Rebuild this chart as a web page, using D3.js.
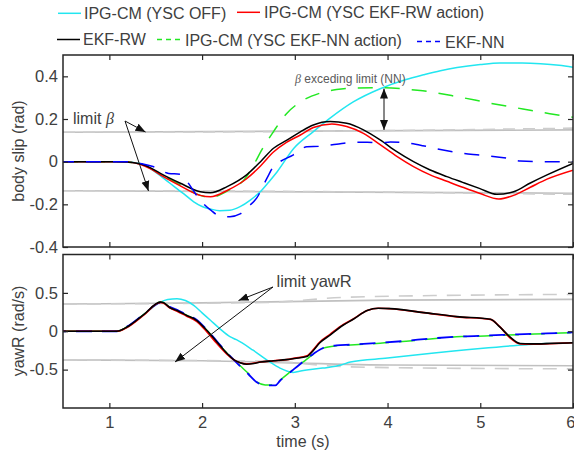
<!DOCTYPE html>
<html><head><meta charset="utf-8">
<script src="https://cdn.jsdelivr.net/npm/d3@7"></script>
<style>
html,body{margin:0;padding:0;background:#fff;}
svg text{font-family:"Liberation Sans",Arial,Helvetica,sans-serif;}
</style></head>
<body><svg id="c" width="574" height="456"></svg>
<script>
// ---------- DATA ----------
const xTicks = [1, 2, 3, 4, 5, 6];
const topYTicks = [-0.4, -0.2, 0, 0.2, 0.4];
const botYTicks = [-0.5, 0, 0.5];

const legendNames = ["IPG-CM (YSC OFF)", "IPG-CM (YSC EKF-RW action)", "EKF-RW", "IPG-CM (YSC EKF-NN action)", "EKF-NN"];
const seriesColors = ["#22e6f0", "#ff0000", "#000000", "#22e822", "#0000ff"];

// body slip (rad)
const bsCyanT = [0.5,1.15,1.33,1.5,1.65,1.8,1.91,2.0,2.09,2.19,2.3,2.41,2.52,2.63,2.72,2.81,2.99,3.2,3.38,3.63,3.92,4.2,4.39,4.57,4.75,5.0,5.21,5.45,5.65,5.85,6.0];
const bsCyanV = [0,0,-0.008,-0.05,-0.10,-0.15,-0.188,-0.21,-0.222,-0.23,-0.228,-0.211,-0.18,-0.14,-0.095,-0.047,0.063,0.141,0.204,0.28,0.342,0.385,0.407,0.426,0.441,0.455,0.462,0.462,0.459,0.452,0.443];

const bsRedT = [0.5,1.1,1.2,1.33,1.45,1.55,1.76,1.98,2.09,2.27,2.48,2.63,2.77,2.91,3.06,3.2,3.4,3.56,3.74,3.92,4.1,4.28,4.46,4.64,4.81,4.99,5.2,5.36,5.54,5.72,6.0];
const bsRedV = [0,0,-0.002,-0.012,-0.035,-0.062,-0.112,-0.158,-0.165,-0.135,-0.08,-0.02,0.045,0.09,0.125,0.16,0.177,0.165,0.133,0.08,0.025,-0.023,-0.062,-0.092,-0.12,-0.148,-0.175,-0.158,-0.12,-0.082,-0.04];

const bsBlackT = [0.5,1.1,1.2,1.33,1.45,1.55,1.76,1.98,2.09,2.27,2.48,2.63,2.77,2.91,3.06,3.2,3.38,3.56,3.74,3.92,4.1,4.28,4.46,4.64,4.81,4.99,5.18,5.36,5.54,5.72,6.0];
const bsBlackV = [0,0,-0.002,-0.01,-0.03,-0.055,-0.10,-0.141,-0.146,-0.117,-0.062,0.0,0.063,0.1,0.14,0.172,0.188,0.18,0.149,0.102,0.047,0.0,-0.039,-0.07,-0.097,-0.125,-0.153,-0.141,-0.10,-0.062,-0.008];

const bsGreenT = [0.5,1.1,1.33,1.55,1.76,1.98,2.09,2.27,2.48,2.55,2.65,2.77,2.91,3.06,3.27,3.45,3.63,3.92,4.2,4.38,4.75,5.11,5.46,5.75,6.0];
const bsGreenV = [0,0,-0.01,-0.058,-0.108,-0.158,-0.168,-0.138,-0.07,-0.02,0.06,0.141,0.225,0.28,0.321,0.338,0.345,0.347,0.34,0.332,0.305,0.274,0.247,0.225,0.208];

const bsBlueT = [0.5,1.1,1.2,1.35,1.47,1.64,1.76,1.89,1.96,2.09,2.2,2.3,2.41,2.48,2.59,2.7,2.77,2.84,2.98,3.13,3.27,3.45,3.63,3.78,3.92,4.03,4.2,4.38,4.57,4.81,5.0,5.29,5.43,5.7,6.0];
const bsBlueV = [0,0,0,-0.01,-0.023,-0.055,-0.059,-0.125,-0.17,-0.226,-0.256,-0.258,-0.245,-0.217,-0.17,-0.077,-0.023,0.0,0.031,0.07,0.072,0.082,0.091,0.091,0.087,0.092,0.088,0.075,0.057,0.039,0.031,0.016,0.003,0.0,0.0];

const bsLimSolidT = [0.5, 6];
const bsLimUpSolidV = [0.138, 0.149];
const bsLimLoSolidV = [-0.136, -0.148];
const bsLimDashT = [0.5, 2.8, 6];
const bsLimUpDashV = [0.138, 0.141, 0.157];
const bsLimLoDashV = [-0.136, -0.139, -0.153];

// yaw rate (rad/s)
const yrCyanT = [0.5,1.08,1.19,1.37,1.55,1.63,1.73,1.82,1.91,2.0,2.09,2.19,2.3,2.37,2.55,2.73,2.84,2.92,2.98,3.05,3.3,3.5,3.6,4.0,4.3,5.0,5.5,5.7,6.0];
const yrCyanV = [0,0,0.055,0.216,0.38,0.415,0.424,0.40,0.337,0.24,0.143,0.035,-0.07,-0.11,-0.247,-0.40,-0.48,-0.52,-0.536,-0.52,-0.48,-0.44,-0.40,-0.35,-0.31,-0.225,-0.175,-0.16,-0.15];

const yrRedT = [0.5,1.08,1.19,1.37,1.55,1.58,1.65,1.73,1.83,1.94,2.05,2.16,2.27,2.34,2.41,2.48,2.56,2.63,2.77,2.91,3.0,3.13,3.2,3.27,3.38,3.52,3.63,3.78,3.9,4.03,4.39,4.75,5.11,5.21,5.32,5.43,5.54,5.75,6.0];
const yrRedV = [0,0,0.05,0.21,0.375,0.37,0.305,0.262,0.2,0.13,-0.005,-0.16,-0.30,-0.37,-0.41,-0.425,-0.415,-0.40,-0.385,-0.37,-0.35,-0.32,-0.24,-0.14,-0.04,0.085,0.16,0.27,0.30,0.293,0.243,0.188,0.155,0.06,-0.085,-0.165,-0.168,-0.16,-0.15];

const yrBlackT = [0.5,1.08,1.19,1.37,1.55,1.58,1.65,1.73,1.83,1.94,2.05,2.16,2.27,2.34,2.41,2.48,2.56,2.63,2.77,2.91,3.0,3.13,3.2,3.27,3.38,3.52,3.63,3.78,3.9,4.03,4.39,4.75,5.11,5.21,5.32,5.43,5.54,5.75,6.0];
const yrBlackV = [0,0,0.055,0.216,0.38,0.375,0.31,0.27,0.208,0.143,0.013,-0.139,-0.29,-0.37,-0.41,-0.43,-0.42,-0.40,-0.385,-0.37,-0.355,-0.33,-0.25,-0.15,-0.05,0.078,0.156,0.27,0.30,0.295,0.243,0.19,0.156,0.056,-0.074,-0.16,-0.165,-0.16,-0.15];

const yrNNT = [0.5,1.08,1.19,1.37,1.55,1.58,1.65,1.73,1.83,1.94,2.05,2.16,2.27,2.34,2.41,2.5,2.59,2.68,2.79,2.84,2.95,3.09,3.2,3.31,3.45,3.6,3.92,4.2,4.46,4.8,5.1,5.4,5.72,6.0];
const yrGreenV = [0,0,0.055,0.216,0.38,0.375,0.31,0.27,0.208,0.143,0.013,-0.139,-0.29,-0.37,-0.45,-0.55,-0.66,-0.70,-0.70,-0.64,-0.53,-0.40,-0.30,-0.22,-0.19,-0.18,-0.155,-0.13,-0.10,-0.07,-0.06,-0.045,-0.03,-0.017];
const yrBlueV  = [0,0,0.06,0.22,0.375,0.38,0.32,0.28,0.215,0.15,0.02,-0.13,-0.285,-0.37,-0.455,-0.56,-0.665,-0.705,-0.705,-0.645,-0.535,-0.395,-0.295,-0.215,-0.185,-0.175,-0.15,-0.125,-0.095,-0.068,-0.055,-0.04,-0.028,-0.015];

const yrLimSolidT = [0.5, 2.0, 4.0, 6.0];
const yrLimUpSolidV = [0.355, 0.37, 0.405, 0.415];
const yrLimLoSolidV = [-0.375, -0.385, -0.44, -0.45];
const yrLimDashT = [0.5, 2.7, 3.5, 4.5, 6.0];
const yrLimUpDashV = [0.355, 0.375, 0.44, 0.465, 0.48];
const yrLimLoDashV = [-0.375, -0.39, -0.46, -0.48, -0.49];

// ---------- DRAW ----------
const svg = d3.select("#c");
const axisColor = "#262626", textColor = "#404040";
const x = d3.scaleLinear().domain([0.5, 6]).range([63, 573]);
const yTop = d3.scaleLinear().domain([-0.4, 0.5]).range([247, 55]);
const yBot = d3.scaleLinear().domain([-1, 1]).range([408, 254.5]);

const defs = svg.append("defs");
defs.append("marker").attr("id","ah").attr("viewBox","0 0 10 10").attr("refX",10).attr("refY",5)
  .attr("markerWidth",10).attr("markerHeight",10).attr("markerUnits","userSpaceOnUse").attr("orient","auto-start-reverse")
  .append("path").attr("d","M0,1 L10,5 L0,9 Z").attr("fill","#111");

function clip(id, y) {
  defs.append("clipPath").attr("id", id).append("rect")
    .attr("x", x.range()[0]).attr("y", y.range()[1])
    .attr("width", x.range()[1]-x.range()[0]).attr("height", y.range()[0]-y.range()[1]);
}
clip("cTop", yTop); clip("cBot", yBot);

function series(g, y, T, V, color, opts = {}) {
  const data = T.map((t, i) => [t, V[i]]);
  const line = d3.line().x(d => x(d[0])).y(d => y(d[1])).curve(d3.curveMonotoneX);
  const p = g.append("path").datum(data).attr("d", line).attr("fill","none")
    .attr("stroke", color).attr("stroke-width", opts.w || 1.5)
    .attr("stroke-linejoin","round").attr("stroke-linecap","butt");
  if (opts.dash) p.attr("stroke-dasharray", opts.dash);
  if (opts.off) p.attr("stroke-dashoffset", opts.off);
  return p;
}

function axes(y, yTicks, showX) {
  const g = svg.append("g");
  const [x0, x1] = x.range(), [yb, yt] = y.range();
  const fmt = d => d === 0 ? "0" : (d < 0 ? "-" : "") + Math.abs(d).toFixed(1);
  const ax = g.append("g").attr("transform", `translate(${x0},0)`)
    .call(d3.axisLeft(y).tickValues(yTicks).tickSize(-5).tickPadding(5).tickFormat(fmt));
  const axr = g.append("g").attr("transform", `translate(${x1},0)`)
    .call(d3.axisRight(y).tickValues(yTicks).tickSize(-5).tickFormat(""));
  const axt = g.append("g").attr("transform", `translate(0,${yt})`)
    .call(d3.axisTop(x).tickValues(xTicks).tickSize(-5).tickFormat(""));
  const axb = g.append("g").attr("transform", `translate(0,${yb})`)
    .call(d3.axisBottom(x).tickValues(xTicks).tickSize(-5).tickPadding(8).tickFormat(showX ? d3.format("d") : ""));
  [ax, axr, axt, axb].forEach(a => {
    a.select(".domain").remove();
    a.selectAll("line").attr("stroke", axisColor).attr("stroke-width", 1.2);
    a.selectAll("text").attr("fill", textColor).style("font-size", "16.5px")
      .style("font-family", '"Liberation Sans",Arial,sans-serif');
  });
  // keep the last x label inside the picture
  axb.selectAll(".tick text").filter(d => d === 6).attr("text-anchor", "end").attr("x", 2);
  g.append("rect").attr("x", x0).attr("y", yt).attr("width", x1 - x0).attr("height", yb - yt)
    .attr("fill","none").attr("stroke", axisColor).attr("stroke-width", 1.5);
}

// Top plot
const gT = svg.append("g").attr("clip-path","url(#cTop)");
series(gT, yTop, bsLimSolidT, bsLimUpSolidV, "#c0c0c0", {w:1.6});
series(gT, yTop, bsLimSolidT, bsLimLoSolidV, "#c0c0c0", {w:1.6});
series(gT, yTop, bsLimDashT, bsLimUpDashV, "#cdcdcd", {w:1.6, dash:"12,8"});
series(gT, yTop, bsLimDashT, bsLimLoDashV, "#cdcdcd", {w:1.6, dash:"12,8"});
series(gT, yTop, bsCyanT, bsCyanV, seriesColors[0]);
series(gT, yTop, bsGreenT, bsGreenV, seriesColors[3], {dash:"15,12"});
series(gT, yTop, bsRedT, bsRedV, seriesColors[1]);
series(gT, yTop, bsBlackT, bsBlackV, seriesColors[2]);
series(gT, yTop, bsBlueT, bsBlueV, seriesColors[4], {dash:"15,12", off:4});
axes(yTop, topYTicks, false);

// Bottom plot
const gB = svg.append("g").attr("clip-path","url(#cBot)");
series(gB, yBot, yrLimSolidT, yrLimUpSolidV, "#c0c0c0", {w:1.6});
series(gB, yBot, yrLimSolidT, yrLimLoSolidV, "#c0c0c0", {w:1.6});
series(gB, yBot, yrLimDashT, yrLimUpDashV, "#cdcdcd", {w:1.6, dash:"14,10"});
series(gB, yBot, yrLimDashT, yrLimLoDashV, "#cdcdcd", {w:1.6, dash:"14,10"});
series(gB, yBot, yrCyanT, yrCyanV, seriesColors[0]);
series(gB, yBot, yrNNT, yrGreenV, seriesColors[3], {dash:"16,10"});
series(gB, yBot, yrNNT, yrBlueV, seriesColors[4], {dash:"16,10", off:13, w:1.8});
series(gB, yBot, yrRedT, yrRedV, seriesColors[1], {w:1.7});
series(gB, yBot, yrBlackT, yrBlackV, seriesColors[2], {w:1.6});
axes(yBot, botYTicks, true);

// Axis labels
svg.append("text").attr("transform","translate(24,151) rotate(-90)").attr("text-anchor","middle")
  .attr("fill", textColor).style("font-size","16px").text("body slip (rad)");
svg.append("text").attr("transform","translate(24,331) rotate(-90)").attr("text-anchor","middle")
  .attr("fill", textColor).style("font-size","16px").text("yawR (rad/s)");
svg.append("text").attr("x", 303).attr("y", 447).attr("text-anchor","middle")
  .attr("fill", textColor).style("font-size","16px").text("time (s)");

// Annotations
const ann = svg.append("g");
function arrow(x1, y1, x2, y2, both) {
  const l = ann.append("line").attr("x1",x1).attr("y1",y1).attr("x2",x2).attr("y2",y2)
    .attr("stroke","#111").attr("stroke-width",1).attr("marker-end","url(#ah)");
  if (both) l.attr("marker-start","url(#ah)");
}
const t1 = ann.append("text").attr("x",73).attr("y",124).attr("fill",textColor).style("font-size","16px");
t1.append("tspan").text("limit ");
t1.append("tspan").style("font-style","italic").style("font-family",'"Liberation Serif","Times New Roman",serif').text("β");
arrow(125, 121, 145.5, 132);
arrow(125, 121, 148.5, 191);

const t2 = ann.append("text").attr("x",295).attr("y",83).attr("fill","#5a5a5a").style("font-size","12px");
t2.append("tspan").style("font-style","italic").style("font-family",'"Liberation Serif","Times New Roman",serif').text("β");
t2.append("tspan").text(" exceding limit (NN)");
arrow(384, 88.5, 384, 130, true);

ann.append("text").attr("x",276.5).attr("y",287).attr("fill",textColor).style("font-size","16.5px").text("limit yawR");
arrow(273, 287, 238.5, 300.5);
arrow(273, 287, 175, 362);

// Legend
const leg = svg.append("g");
const legItems = [
  {i:0, lx:58, ly:13.3, tx:84, ty:13, dash:null},
  {i:1, lx:237, ly:12.3, tx:264, ty:12, dash:null},
  {i:2, lx:57, ly:39.5, tx:83, ty:39.5, dash:null},
  {i:3, lx:157, ly:39.5, tx:185, ty:40, dash:"5,4"},
  {i:4, lx:417, ly:41.5, tx:445, ty:42, dash:"5,4"}
];
legItems.forEach(d => {
  const l = leg.append("line").attr("x1", d.lx).attr("x2", d.lx + 23).attr("y1", d.ly).attr("y2", d.ly)
    .attr("stroke", seriesColors[d.i]).attr("stroke-width", 1.5);
  if (d.dash) l.attr("stroke-dasharray", d.dash);
  leg.append("text").attr("x", d.tx).attr("y", d.ty).attr("dy","0.35em").attr("fill", textColor)
    .style("font-size","16px").text(legendNames[d.i]);
});
</script></body></html>
